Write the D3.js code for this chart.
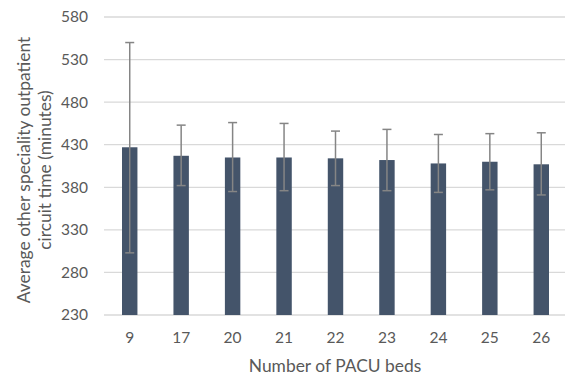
<!DOCTYPE html>
<html>
<head>
<meta charset="utf-8">
<title>PACU beds</title>
<script src="https://d3js.org/d3.v7.min.js"></script>
<style>
  body { margin: 0; background: #fff; }
  svg text { font-family: Lato, "Open Sans", sans-serif; fill: #595959; }
</style>
</head>
<body>
<div id="chart"></div>
<script>
const beds = ["9", "17", "20", "21", "22", "23", "24", "25", "26"];
const meanTime = [427, 417, 415, 415, 414, 412, 408, 410, 407];
const errHigh = [550, 453, 456, 455, 446, 448, 442, 443, 444];
const errLow = [303, 382, 375, 376, 382, 376, 374, 377, 371];
const yTicks = [230, 280, 330, 380, 430, 480, 530, 580];

const width = 565, height = 376;
const plotLeft = 104, plotRight = 567, plotTop = 17, plotBottom = 315;

const svg = d3.select("#chart").append("svg")
  .attr("width", width)
  .attr("height", height);

const x = d3.scaleBand()
  .domain(beds)
  .range([plotLeft, plotRight])
  .paddingInner(0.7)
  .paddingOuter(0.35);

const y = d3.scaleLinear()
  .domain([230, 580])
  .range([plotBottom, plotTop]);

// gridlines
svg.append("g")
  .selectAll("line")
  .data(yTicks)
  .enter().append("line")
  .attr("x1", plotLeft)
  .attr("x2", 565)
  .attr("y1", d => y(d))
  .attr("y2", d => y(d))
  .attr("stroke", "#d9d9d9")
  .attr("stroke-width", 1.3);

// y tick labels
svg.append("g")
  .selectAll("text")
  .data(yTicks)
  .enter().append("text")
  .attr("x", 88)
  .attr("y", d => y(d))
  .attr("dy", "0.35em")
  .attr("text-anchor", "end")
  .style("font-size", "15.5px")
  .text(d => d);

// bars
svg.append("g")
  .selectAll("rect")
  .data(meanTime)
  .enter().append("rect")
  .attr("x", (d, i) => x(beds[i]))
  .attr("width", x.bandwidth())
  .attr("y", d => y(d))
  .attr("height", d => y(230) - y(d))
  .attr("fill", "#44546a");

// error bars
const err = svg.append("g")
  .attr("stroke", "#858585")
  .attr("stroke-width", 1.5);

beds.forEach((b, i) => {
  const cx = x(b) + x.bandwidth() / 2;
  err.append("line")
    .attr("x1", cx).attr("x2", cx)
    .attr("y1", y(errLow[i])).attr("y2", y(errHigh[i]));
  [errLow[i], errHigh[i]].forEach(v => {
    err.append("line")
      .attr("x1", cx - 4.5).attr("x2", cx + 4.5)
      .attr("y1", y(v)).attr("y2", y(v));
  });
});

// x tick labels
svg.append("g")
  .selectAll("text")
  .data(beds)
  .enter().append("text")
  .attr("x", d => x(d) + x.bandwidth() / 2)
  .attr("y", 343)
  .attr("text-anchor", "middle")
  .style("font-size", "15.5px")
  .text(d => d);

// axis titles
svg.append("text")
  .attr("x", 335)
  .attr("y", 372)
  .attr("text-anchor", "middle")
  .style("font-size", "17.4px")
  .text("Number of PACU beds");

const yTitle = svg.append("text")
  .attr("transform", "translate(0,170) rotate(-90)")
  .attr("text-anchor", "middle")
  .style("font-size", "17.4px");
yTitle.append("tspan").attr("x", 0).attr("y", 30).text("Average other speciality outpatient");
yTitle.append("tspan").attr("x", 0).attr("y", 51).text("circuit time (minutes)");
</script>
</body>
</html>
